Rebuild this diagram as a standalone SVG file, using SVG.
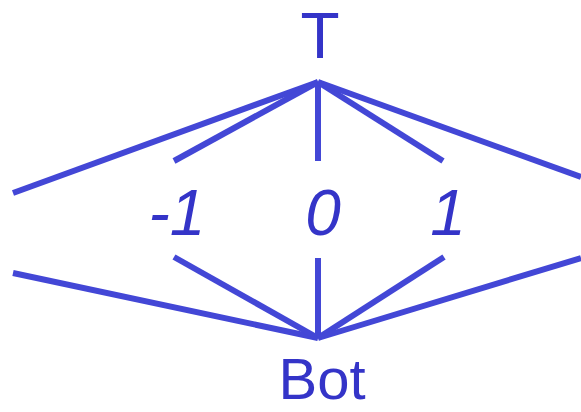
<svg xmlns="http://www.w3.org/2000/svg" width="581" height="412" viewBox="0 0 581 412">
<style>
.e{stroke:#4347d6;stroke-width:6;fill:none}
.t{fill:#3434c8;font-family:"Comic Sans MS","Liberation Sans",sans-serif;font-size:64px;text-anchor:middle}
.i{font-style:italic}
</style>
<rect width="581" height="412" fill="#fff"/>
<g id="edges">
<line class="e" x1="318" y1="82" x2="13" y2="193"/>
<line class="e" x1="318" y1="82" x2="174" y2="161"/>
<line class="e" x1="318" y1="82" x2="318" y2="161"/>
<line class="e" x1="318" y1="82" x2="443" y2="161"/>
<line class="e" x1="318" y1="82" x2="581" y2="177"/>
<line class="e" x1="318" y1="338" x2="13" y2="273"/>
<line class="e" x1="318" y1="338" x2="174" y2="257"/>
<line class="e" x1="318" y1="338" x2="318" y2="258"/>
<line class="e" x1="318" y1="338" x2="444" y2="257"/>
<line class="e" x1="318" y1="338" x2="581" y2="258"/>
</g>
<g id="top"><text class="t" x="320" y="58">T</text></g>
<g id="m1"><text class="t i" x="177" y="235">-1</text></g>
<g id="zero"><text class="t i" x="323" y="235">0</text></g>
<g id="one"><text class="t i" x="448" y="235">1</text></g>
<g id="bot"><text class="t" x="322" y="399" style="font-size:58px">Bot</text></g>
</svg>
